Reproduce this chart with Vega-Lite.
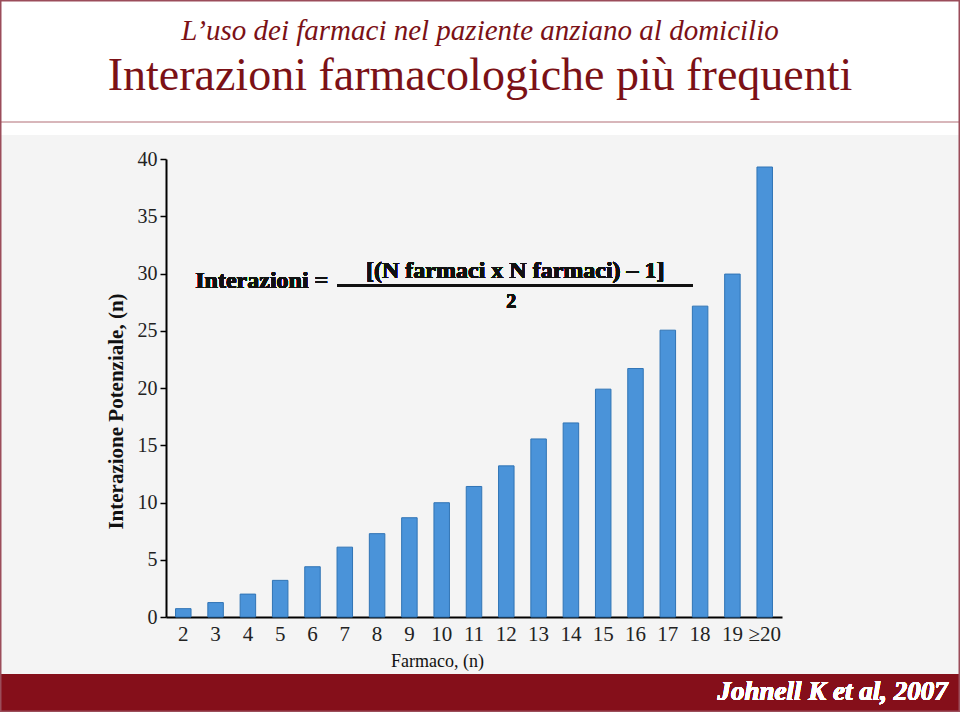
{
  "$schema": "https://vega.github.io/schema/vega-lite/v6.json",
  "width": 960,
  "height": 712,
  "padding": 0,
  "autosize": {"type": "none"},
  "background": "#f4f4f4",
  "view": {
    "fill": {
      "gradient": "linear",
      "x1": 0, "y1": 0, "x2": 0, "y2": 1,
      "stops": [
        {"offset": 0, "color": "#ffffff"},
        {"offset": 0.1699, "color": "#ffffff"},
        {"offset": 0.1700, "color": "#d8b6ba"},
        {"offset": 0.1727, "color": "#d8b6ba"},
        {"offset": 0.1728, "color": "#ffffff"},
        {"offset": 0.1895, "color": "#ffffff"},
        {"offset": 0.1896, "color": "#f4f4f4"},
        {"offset": 0.9465, "color": "#f4f4f4"},
        {"offset": 0.9466, "color": "#850f1a"},
        {"offset": 1, "color": "#850f1a"}
      ]
    },
    "stroke": "#9b4d5a",
    "strokeWidth": 3
  },
  "title": {
    "text": "L’uso dei farmaci nel paziente anziano al domicilio",
    "subtitle": "Interazioni farmacologiche più frequenti",
    "anchor": "middle",
    "frame": "group",
    "offset": -99,
    "font": "Liberation Serif",
    "fontSize": 29,
    "fontStyle": "italic",
    "fontWeight": "normal",
    "color": "#7b1116",
    "subtitleFont": "Liberation Serif",
    "subtitleFontSize": 46,
    "subtitleColor": "#7b1116",
    "subtitlePadding": 8
  },
  "data": {
    "values": [
      {"n": "2", "v": 0.73},
      {"n": "3", "v": 1.26},
      {"n": "4", "v": 2.0},
      {"n": "5", "v": 3.2},
      {"n": "6", "v": 4.39},
      {"n": "7", "v": 6.1},
      {"n": "8", "v": 7.28},
      {"n": "9", "v": 8.67},
      {"n": "10", "v": 9.98},
      {"n": "11", "v": 11.4},
      {"n": "12", "v": 13.2},
      {"n": "13", "v": 15.55},
      {"n": "14", "v": 16.95},
      {"n": "15", "v": 19.9},
      {"n": "16", "v": 21.7},
      {"n": "17", "v": 25.05},
      {"n": "18", "v": 27.15},
      {"n": "19", "v": 29.95},
      {"n": "≥20", "v": 39.3}
    ]
  },
  "encoding": {
    "x": {
      "field": "n",
      "type": "nominal",
      "sort": null,
      "scale": {
        "domain": ["2","3","4","5","6","7","8","9","10","11","12","13","14","15","16","17","18","19","≥20"],
        "range": [166, 782],
        "paddingInner": 0.52,
        "paddingOuter": 0.295
      },
      "axis": {
        "title": "Farmaco, (n)",
        "orient": "bottom",
        "offset": -95,
        "domainColor": "#000000",
        "domainWidth": 2,
        "ticks": false,
        "labelAngle": 0,
        "labelFont": "Liberation Serif",
        "labelFontSize": 21,
        "labelColor": "#222222",
        "labelPadding": 6,
        "titleFont": "Liberation Serif",
        "titleFontSize": 18,
        "titleFontWeight": "normal",
        "titleColor": "#111111",
        "titlePadding": 8,
        "titleX": 437
      }
    },
    "y": {
      "field": "v",
      "type": "quantitative",
      "scale": {"domain": [0, 40], "range": [617, 159], "nice": false},
      "axis": {
        "title": "Interazione Potenziale, (n)",
        "orient": "left",
        "offset": -166,
        "values": [0, 5, 10, 15, 20, 25, 30, 35, 40],
        "grid": false,
        "domainColor": "#000000",
        "domainWidth": 2,
        "tickColor": "#000000",
        "tickSize": 6,
        "tickWidth": 1.5,
        "labelFont": "Liberation Serif",
        "labelFontSize": 20,
        "labelColor": "#222222",
        "labelPadding": 3,
        "titleFont": "Liberation Serif",
        "titleFontSize": 21,
        "titleFontWeight": "bold",
        "titleColor": "#111111",
        "titlePadding": 11,
        "titleY": 411
      }
    }
  },
  "layer": [
    {
      "mark": {"type": "bar", "fill": "#4a93d9", "stroke": "#3074b5", "strokeWidth": 1}
    },
    {
      "mark": {"type": "text", "text": "Interazioni =", "align": "left", "baseline": "alphabetic", "dx": 12, "font": "Liberation Serif", "fontSize": 24, "fontWeight": "bold", "fill": "#111111"},
      "encoding": {"x": {"datum": "2"}, "y": {"datum": 28.7}}
    },
    {
      "mark": {"type": "rule", "stroke": "#111111", "strokeWidth": 2},
      "encoding": {"x": {"datum": "7", "bandPosition": 0}, "x2": {"datum": "18", "bandPosition": 0}, "y": {"datum": 28.95}}
    },
    {
      "mark": {"type": "text", "text": "[(N farmaci x N farmaci) – 1]", "align": "center", "baseline": "alphabetic", "dx": 9, "font": "Liberation Serif", "fontSize": 24, "fontWeight": "bold", "fill": "#111111"},
      "encoding": {"x": {"datum": "12"}, "y": {"datum": 29.58}}
    },
    {
      "mark": {"type": "text", "text": "2", "align": "center", "baseline": "alphabetic", "dx": 5, "font": "Liberation Serif", "fontSize": 20, "fontWeight": "bold", "fill": "#111111"},
      "encoding": {"x": {"datum": "12"}, "y": {"datum": 26.96}}
    },
    {
      "mark": {"type": "text", "text": "Johnell K et al, 2007", "align": "right", "baseline": "alphabetic", "dx": 183, "font": "Liberation Serif", "fontSize": 27, "fontWeight": "bold", "fontStyle": "italic", "fill": "#ffffff"},
      "encoding": {"x": {"datum": "≥20"}, "y": {"datum": -7.25}}
    }
  ]
}
